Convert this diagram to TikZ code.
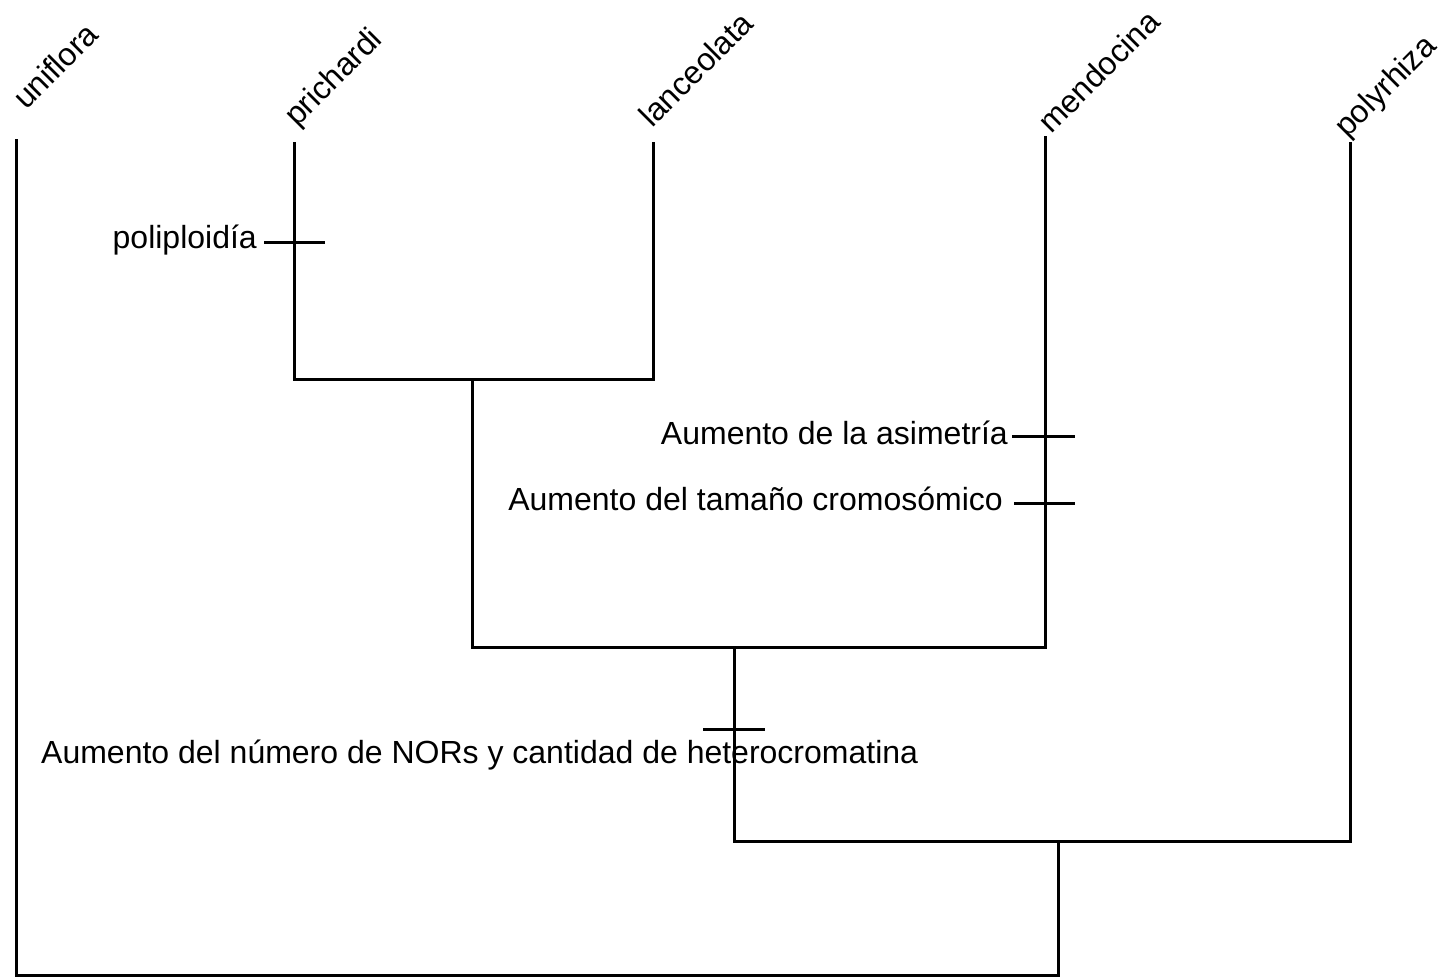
\documentclass[tikz,border=0pt]{standalone}
\usepackage{fontspec}
\setmainfont{Liberation Sans}
\tikzset{
  branch/.style={line width=3pt,line cap=rect},
  tickmark/.style={line width=3pt},
  taxon/.style={rotate=45,anchor=base west,inner sep=0pt,font=\fontsize{32}{38}\selectfont},
  change/.style={inner sep=0pt,font=\fontsize{32}{38}\selectfont},
}
\begin{document}
\begin{tikzpicture}[x=1pt,y=-1pt]
\useasboundingbox (0,0) rectangle (1443,978);

% taxa
\node [taxon] (uniflora) at (26,111) {uniflora};
\node [taxon] (prichardi) at (297,128) {prichardi};
\node [taxon] (lanceolata) at (652,129) {lanceolata};
\node [taxon] (mendocina) at (1051,135) {mendocina};
\node [taxon] (polyrhiza) at (1347,139) {polyrhiza};

\coordinate (tu) at (16,140);
\coordinate (tp) at (294,143);
\coordinate (tl) at (653,143);
\coordinate (tm) at (1045,137);
\coordinate (ty) at (1350,143);

% internal nodes
\coordinate (n1) at (472,379);
\coordinate (n2) at (734,647);
\coordinate (n3) at (1058,841);
\coordinate (root) at (1058,975);

\draw [branch] (tp) |- (n1) -| (tl);
\draw [branch] (n1) |- (n2) -| (tm);
\draw [branch] (n2) |- (n3) -| (ty);
\draw [branch] (n3) -- (root) -| (tu);

% characters
\node [change,anchor=base east] (poli) at (257,248) {poliploidía};
\draw [tickmark] (264,242) -- (325,242);

\node [change,anchor=base east] (asim) at (1008,444) {Aumento de la asimetría};
\draw [tickmark] (1012,436) -- (1075,436);

\node [change,anchor=base east] (tam) at (1003,510) {Aumento del tamaño cromosómico};
\draw [tickmark] (1014,503) -- (1075,503);

\draw [tickmark] (703,729) -- (765,729);
\node [change,anchor=base west] (nor) at (41,763) {Aumento del número de NORs y cantidad de heterocromatina};
\end{tikzpicture}
\end{document}
